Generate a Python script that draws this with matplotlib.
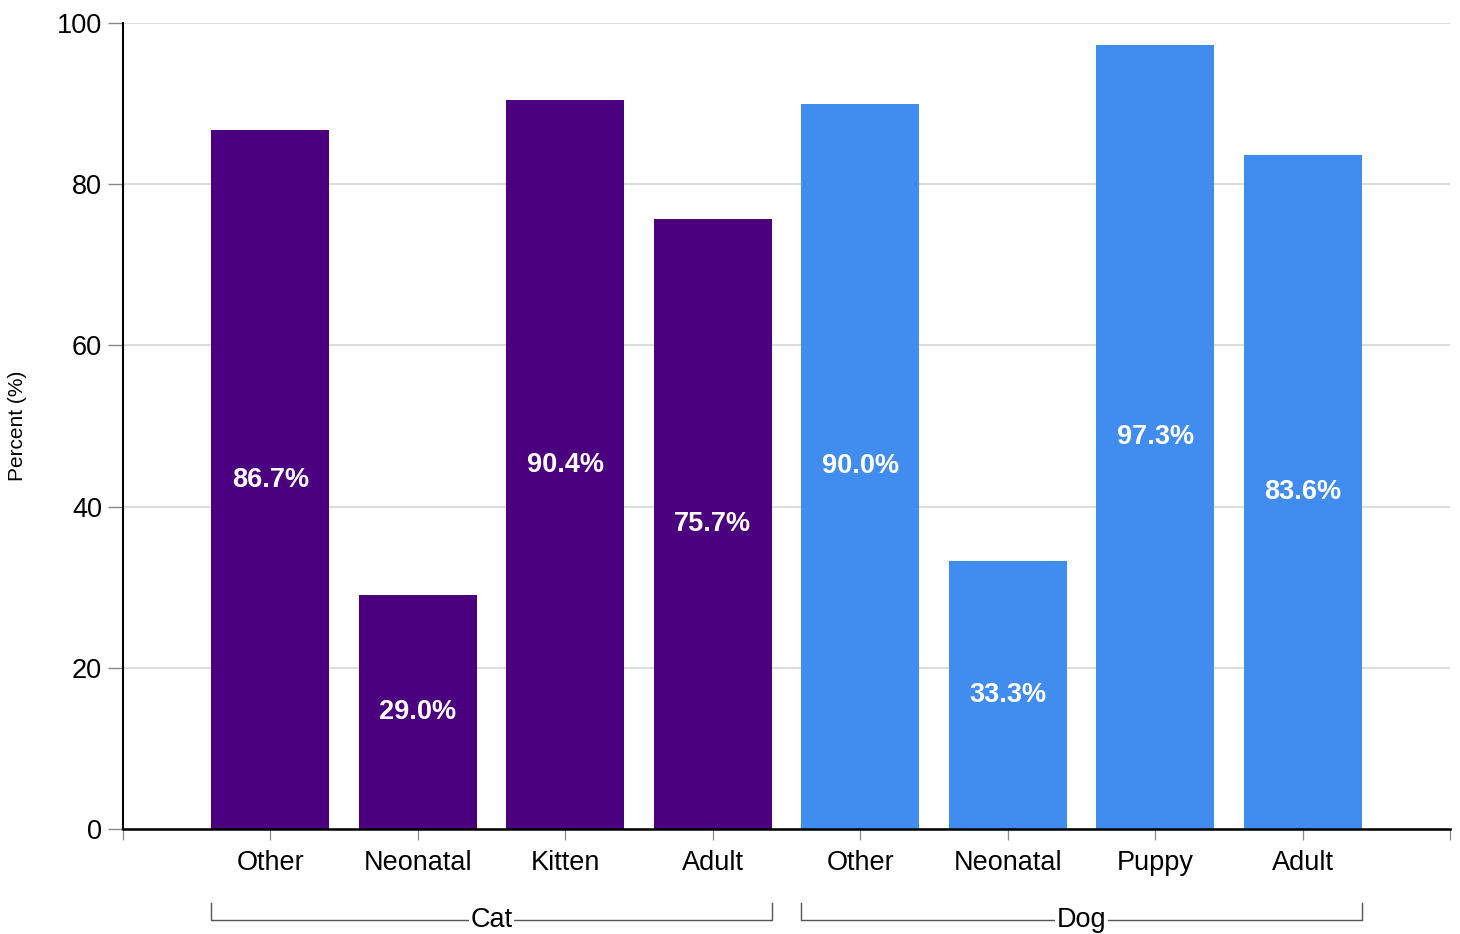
import matplotlib
matplotlib.use("Agg")
import matplotlib.pyplot as plt

categories = ["Other", "Neonatal", "Kitten", "Adult", "Other", "Neonatal", "Puppy", "Adult"]
values = [86.7, 29.0, 90.4, 75.7, 90.0, 33.3, 97.3, 83.6]
groups = ["Cat", "Cat", "Cat", "Cat", "Dog", "Dog", "Dog", "Dog"]
group_names = ["Cat", "Dog"]
group_colors = {"Cat": "#4b0080", "Dog": "#418cef"}
yticks = [0, 20, 40, 60, 80, 100]

plt.rcParams['font.family'] = ['Liberation Sans', 'DejaVu Sans']

fig = plt.figure(figsize=(14.6, 9.34), dpi=100)
ax = fig.add_axes([123/1460, 1-829/934, (1450-123)/1460, (829-23)/934])

x = list(range(len(categories)))
colors = [group_colors[g] for g in groups]
ax.bar(x, values, width=0.8, color=colors, zorder=2)

for xi, v in zip(x, values):
    ax.text(xi, v/2, f"{v:.1f}%", ha='center', va='center', color='white',
            fontsize=19.5, fontweight='bold', zorder=3)

ax.set_xlim(-1, 8)
ax.set_ylim(0, 100)
ax.set_yticks(yticks)
ax.set_yticklabels([str(t) for t in yticks], fontsize=19.5)
ax.yaxis.grid(True, color='#dddddd', linewidth=1.5, zorder=0)
ax.set_axisbelow(True)
ax.tick_params(axis='y', length=11, width=1, color='#888888', pad=4)

ax.set_xticks([-1] + x + [8])
ax.set_xticklabels([""] + categories + [""], fontsize=19.5)
ax.tick_params(axis='x', length=8, width=0.9, color='#888888', pad=7)

for s in ['top', 'right']:
    ax.spines[s].set_visible(False)
ax.spines['left'].set_linewidth(1.5)
ax.spines['bottom'].set_linewidth(1.8)

fig.text(18/1460, 1-426/934, "Percent (%)", rotation=90, ha='center', va='center',
         fontsize=15)

# group brackets
trans = ax.get_xaxis_transform()
for gname in group_names:
    idx = [i for i, g in enumerate(groups) if g == gname]
    left = min(idx) - 0.4
    right = max(idx) + 0.4
    center = (left + right) / 2
    ybase = -(920-829)/(829-23)
    ytop = -(903-829)/(829-23)
    ax.plot([left, left, right, right], [ytop, ybase, ybase, ytop], transform=trans,
            color='#555555', linewidth=1.0, clip_on=False)
    ax.text(center, ybase, gname, transform=trans, ha='center', va='center',
            fontsize=19.5,
            bbox=dict(facecolor='white', edgecolor='none', pad=1))

fig.savefig("out.png", dpi=100)
